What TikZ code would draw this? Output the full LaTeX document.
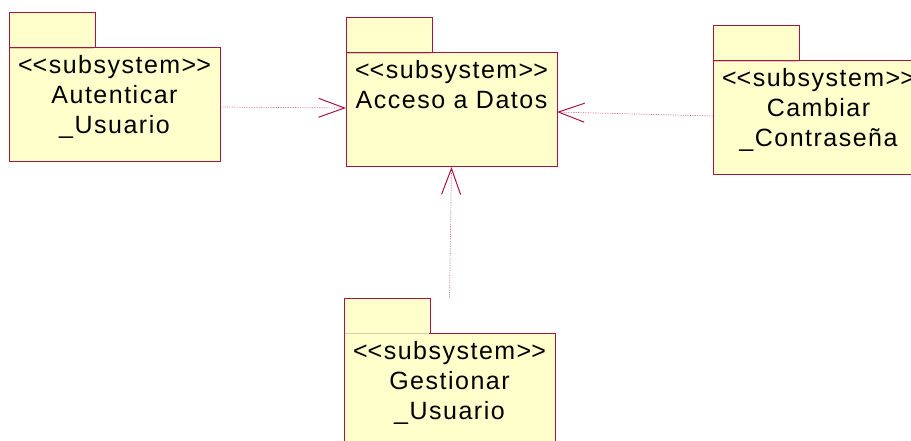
\documentclass[tikz,border=0pt]{standalone}
\usepackage{fontspec}
\setmainfont{Liberation Sans}
\newfontfamily\umlfont{Liberation Sans}[LetterSpace=6]
\usetikzlibrary{arrows.meta}
\definecolor{pkgborder}{RGB}{165,20,70}
\definecolor{pkgfill}{RGB}{255,255,204}
\definecolor{tabline}{RGB}{225,205,170}
\definecolor{depline}{RGB}{205,90,130}
\newcommand{\stereo}{<\kern0pt<subsystem>\kern0pt>}
\begin{document}
\begin{tikzpicture}[x=1pt,y=-1pt,
 body/.style={draw=pkgborder,fill=pkgfill,line width=1pt,minimum width=211pt,minimum height=114pt,anchor=north west,inner sep=0pt,outer sep=0pt},
 tab/.style={draw=pkgborder,fill=pkgfill,line width=1pt,minimum width=86pt,minimum height=35pt,anchor=south west,inner sep=0pt,outer sep=0pt},
 pkglabel/.style={font=\umlfont\fontsize{25}{30}\selectfont,align=center,anchor=base,inner sep=0pt},
 tabedge/.style={draw=tabline,line width=0.8pt},
 dep/.style={draw=depline,densely dotted,line width=0.7pt,-{Straight Barb[length=26pt,width=19pt,color=pkgborder,line width=1pt]}}
]
\path[use as bounding box] (0,0) rectangle (911,441);
\clip (0,0) rectangle (911,441);

% Autenticar_Usuario
\node[body] (A) at (9,48) {};
\node[tab] (At) at (A.north west) {};
\draw[tabedge] ([xshift=1pt]At.south west) -- ([xshift=-1pt]At.south east);
\node[pkglabel] (Al) at ([yshift=-86pt]A.north) {\stereo\\Autenticar\\\_Usuario};

% Acceso a Datos
\node[body] (B) at (346,53) {};
\node[tab] (Bt) at (B.north west) {};
\draw[tabedge] ([xshift=1pt]Bt.south west) -- ([xshift=-1pt]Bt.south east);
\node[pkglabel] (Bl) at ([yshift=-56pt]B.north) {\stereo\\Acceso a Datos};

% Cambiar_Contrasena
\node[body] (C) at (713,61) {};
\node[tab] (Ct) at (C.north west) {};
\draw[tabedge] ([xshift=1pt]Ct.south west) -- ([xshift=-1pt]Ct.south east);
\node[pkglabel] (Cl) at ([yshift=-86pt]C.north) {\stereo\\Cambiar\\\_Contraseña};

% Gestionar_Usuario
\node[body] (D) at (344,333) {};
\node[tab] (Dt) at (D.north west) {};
\draw[tabedge] ([xshift=1pt]Dt.south west) -- ([xshift=-1pt]Dt.south east);
\node[pkglabel] (Dl) at ([yshift=-86pt]D.north) {\stereo\\Gestionar\\\_Usuario};

% dependencies
\draw[dep] ([xshift=2pt,yshift=-2pt]A.east) -- ([yshift=2pt]B.west);
\draw[dep] ([yshift=2pt]C.west) -- ([yshift=-2pt]B.east);
\draw[dep] (D.north |- Dt.north) -- (B.south);
\end{tikzpicture}
\end{document}
